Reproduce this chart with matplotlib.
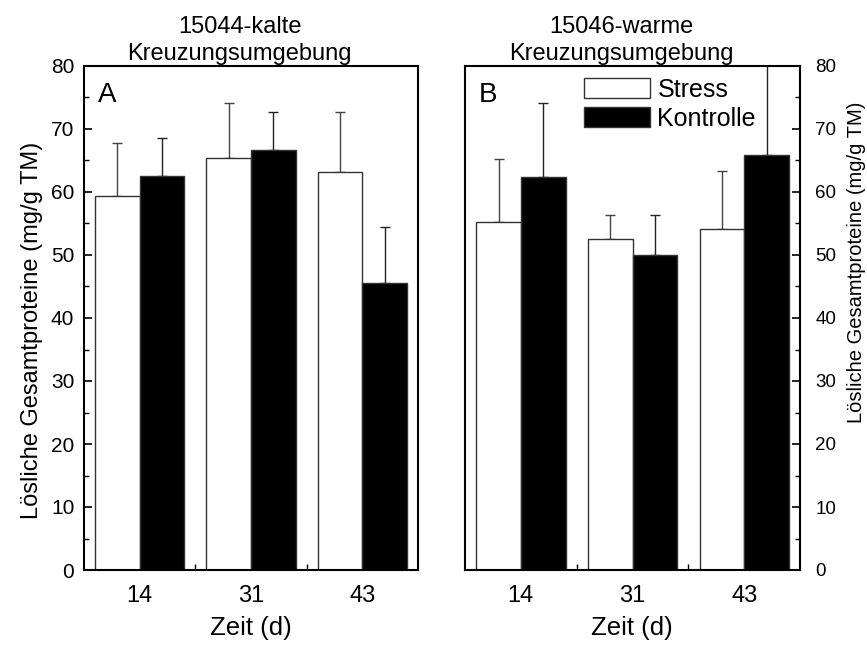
import matplotlib.pyplot as plt
import numpy as np

plt.rcParams['font.family'] = ['Liberation Sans', 'DejaVu Sans']

days = ['14', '31', '43']

# soluble total protein (mg/g TM), mean and upper SD
kalt_stress = [59.3, 65.4, 63.1]
kalt_stress_err = [8.4, 8.7, 9.6]
kalt_kontrolle = [62.6, 66.7, 45.5]
kalt_kontrolle_err = [6.0, 6.0, 9.0]

warm_stress = [55.2, 52.6, 54.1]
warm_stress_err = [10.0, 3.7, 9.3]
warm_kontrolle = [62.4, 50.0, 65.9]
warm_kontrolle_err = [11.8, 6.4, 16.0]

ylabel = 'Lösliche Gesamtproteine (mg/g TM)'
width = 0.4
W, H = 867, 646


def draw_panel(ax, stress, s_err, kontrolle, k_err, title, letter, ytick_size):
    x = np.arange(1, len(days) + 1)
    zeros = np.zeros(len(days))
    ax.bar(x - width / 2, stress, width, color='white', edgecolor='#333333',
           linewidth=1, label='Stress', zorder=2)
    ax.bar(x + width / 2, kontrolle, width, color='black', edgecolor='#333333',
           linewidth=1, label='Kontrolle', zorder=2)
    ax.errorbar(x - width / 2, stress, yerr=[zeros, s_err], fmt='none',
                ecolor='#444444', elinewidth=1, capsize=3.3, capthick=1, zorder=1)
    ax.errorbar(x + width / 2, kontrolle, yerr=[zeros, k_err], fmt='none',
                ecolor='#222222', elinewidth=1, capsize=3.3, capthick=1, zorder=1)

    ax.set_xlim(0.5, 3.5)
    ax.set_ylim(0, 80)
    ax.set_xticks(x)
    ax.set_xticklabels(days)
    ax.set_xticks([1.5, 2.5], minor=True)
    ax.set_yticks(np.arange(0, 81, 10))
    ax.set_yticks(np.arange(5, 80, 10), minor=True)
    ax.tick_params(axis='x', which='major', length=0, pad=11, labelsize=17)
    ax.tick_params(axis='x', which='minor', direction='in', length=4, width=1)
    ax.tick_params(axis='y', which='major', direction='in', length=5.5, width=1.2,
                   labelsize=ytick_size)
    ax.tick_params(axis='y', which='minor', direction='in', length=3.5, width=1)
    for s in ax.spines.values():
        s.set_linewidth(1.5)
    ax.set_title(title, fontsize=17, linespacing=1.3, pad=4, x=0.466)
    ax.text(0.042, 0.968, letter, transform=ax.transAxes, fontsize=20,
            va='top', ha='left')


fig = plt.figure(figsize=(8.67, 6.46), dpi=100)
ax_a = fig.add_axes([84 / W, 1 - 570 / H, 334 / W, 504 / H])
ax_b = fig.add_axes([465 / W, 1 - 570 / H, 335 / W, 504 / H])

draw_panel(ax_a, kalt_stress, kalt_stress_err, kalt_kontrolle, kalt_kontrolle_err,
           '15044-kalte\nKreuzungsumgebung', 'A', 15)
draw_panel(ax_b, warm_stress, warm_stress_err, warm_kontrolle, warm_kontrolle_err,
           '15046-warme\nKreuzungsumgebung', 'B', 13.5)

ax_a.tick_params(axis='y', which='major', pad=7)

ax_b.yaxis.tick_right()
ax_b.tick_params(axis='y', which='both', left=False, right=True)
ax_b.tick_params(axis='y', which='major', pad=11)

# axis titles
fig.text(32 / W, 1 - 330 / H, ylabel, rotation=90, fontsize=17,
         ha='center', va='center')
fig.text(856 / W, 1 - 262 / H, ylabel, rotation=90, fontsize=14.5,
         ha='center', va='center')
fig.text(251 / W, 1 - 628 / H, 'Zeit (d)', fontsize=18.5, ha='center', va='center')
fig.text(632 / W, 1 - 628 / H, 'Zeit (d)', fontsize=18.5, ha='center', va='center')

ax_b.legend(loc='upper left', bbox_to_anchor=(0.355, 0.977), frameon=False,
            fontsize=18, handlelength=2.64, handleheight=0.88, handletextpad=0.3,
            labelspacing=0.2, borderaxespad=0, borderpad=0)

fig.savefig('out.png', dpi=100)
